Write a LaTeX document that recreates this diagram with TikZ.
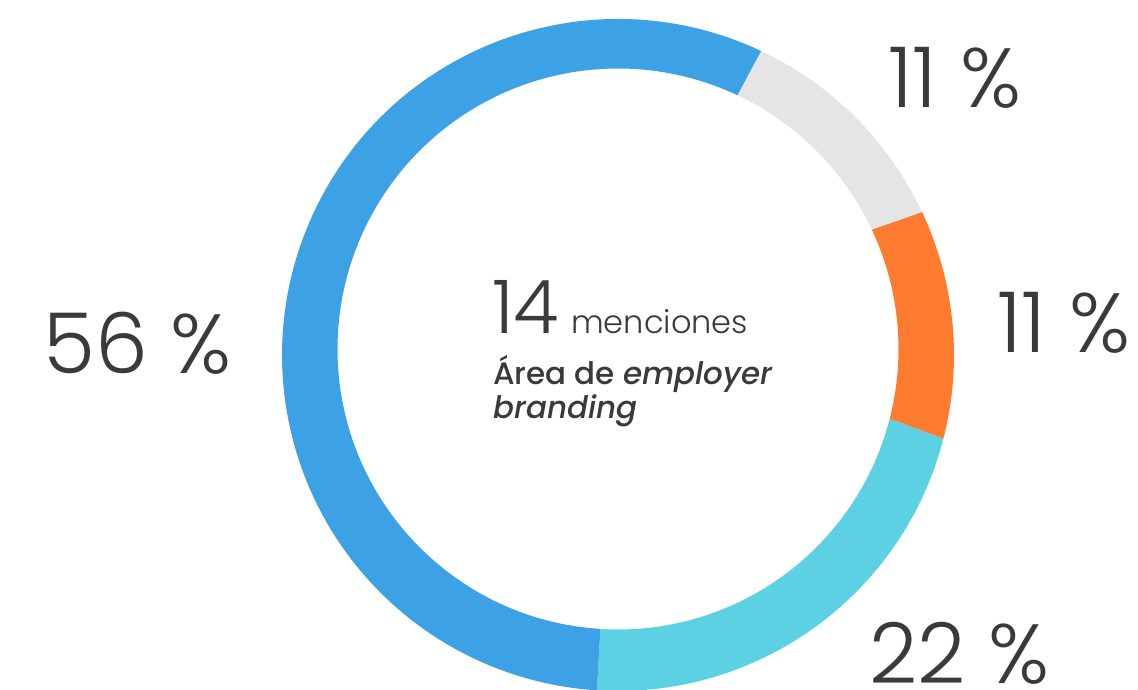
\documentclass[tikz,border=0pt]{standalone}
\usepackage{fontspec}
\setmainfont{Poppins}
\newfontfamily\poplight{Poppins Light}
\newfontfamily\popmed{Poppins Medium}[ItalicFont={Poppins Medium Italic}]

\definecolor{segblue}{HTML}{3DA2E5}
\definecolor{seggray}{HTML}{E5E5E5}
\definecolor{segorange}{HTML}{FF7B30}
\definecolor{segcyan}{HTML}{5CD1E4}
\definecolor{txtgray}{HTML}{3A3A3A}

\begin{document}
\begin{tikzpicture}
[x=1pt,y=1pt]
\tikzset{pct/.style={anchor=base west,inner sep=0pt,text=txtgray,font=\poplight\fontsize{84}{84}\selectfont}}
\tikzset{lbl/.style={anchor=base west,inner sep=0pt,text=txtgray}}
\useasboundingbox (0,0) rectangle (1138,689);
\coordinate (oc) at (618,334);
\coordinate (ic) at (618,340);

% ring
\foreach \a/\b/\col in {-93.6/-14.4/segcyan,-14.4/25.2/segorange,25.2/64.8/seggray,64.8/266.4/segblue}
	\fill[\col] (oc) ++(\a:336) arc[start angle=\a,end angle=\b,radius=336]
		-- ([shift={(\b:280.5)}]ic) arc[start angle=\b,end angle=\a,radius=280.5] -- cycle;

% shares
\node [pct] (p56) at (43,316) {56 \%};
\node [pct] (p11a) at (888,581) {11 \%};
\node [pct] (p11b) at (997,336) {11 \%};
\node [pct] (p22) at (869,6) {22 \%};

% centre
\node [lbl,font=\poplight\fontsize{74}{74}\selectfont] (num) at (492,355) {14};
\node [lbl,font=\poplight\fontsize{32}{32}\selectfont] (menc) at (571,355) {menciones};
\node [lbl,font=\popmed\fontsize{31}{31}\selectfont] (area1) at (493,304) {Área de \textit{employer}};
\node [lbl,font=\popmed\fontsize{31}{31}\selectfont] (area2) at (493,271) {\textit{branding}};

\end{tikzpicture}
\end{document}
